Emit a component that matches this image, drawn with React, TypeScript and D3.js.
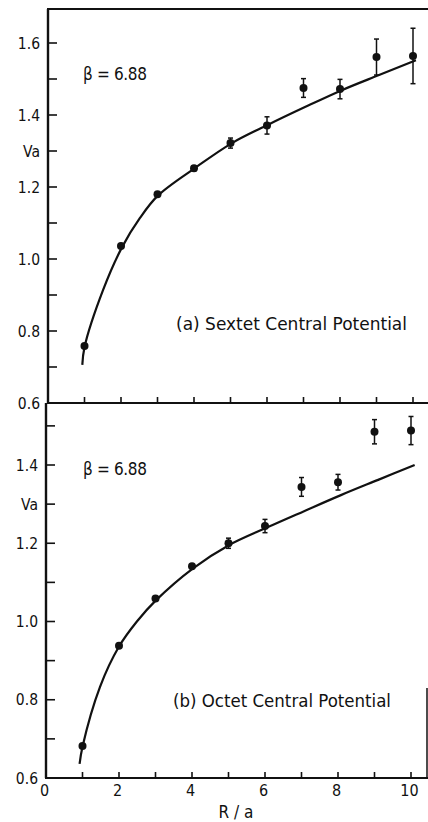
import React from "react";
import * as d3 from "d3";

// ---- data ----
const R = [1, 2, 3, 4, 5, 6, 7, 8, 9, 10];

const sextetV = [0.758, 1.036, 1.18, 1.252, 1.322, 1.371, 1.475, 1.472, 1.561, 1.564];
const sextetErr = [0, 0, 0, 0.007, 0.014, 0.024, 0.026, 0.027, 0.05, 0.077];
const sextetFitR = [0.94, 1.0, 1.51, 2.03, 2.52, 3.01, 4.03, 5.04, 6.03, 7.04, 8.05, 9.07, 10.08];
const sextetFitV = [0.706, 0.755, 0.914, 1.033, 1.114, 1.176, 1.253, 1.322, 1.373, 1.422, 1.469, 1.511, 1.552];

const octetV = [0.682, 0.938, 1.059, 1.141, 1.2, 1.244, 1.344, 1.356, 1.485, 1.488];
const octetErr = [0, 0, 0, 0.004, 0.013, 0.017, 0.024, 0.02, 0.031, 0.036];
const octetFitR = [0.92, 1.0, 1.48, 2.0, 2.49, 3.01, 4.03, 5.01, 6.05, 7.07, 8.08, 9.1, 10.1];
const octetFitV = [0.636, 0.68, 0.833, 0.936, 1.0, 1.054, 1.136, 1.195, 1.24, 1.282, 1.323, 1.362, 1.4];

const xTicks = [1, 2, 3, 4, 5, 6, 7, 8, 9, 10];
const xTickLabels = [0, 2, 4, 6, 8, 10];
const yTicksTop = [0.7, 0.8, 0.9, 1.0, 1.1, 1.2, 1.3, 1.4, 1.5, 1.6];
const yLabelsTop = [0.6, 0.8, 1.0, 1.2, 1.4, 1.6];
const yTicksBottom = [0.7, 0.8, 0.9, 1.0, 1.1, 1.2, 1.3, 1.4, 1.5];
const yLabelsBottom = [0.6, 0.8, 1.0, 1.2, 1.4];
const vaAt = 1.3;
const betaText = "β = 6.88";
const titleTop = "(a) Sextet Central Potential";
const titleBottom = "(b) Octet Central Potential";
const xTitle = "R / a";

const W = 428;
const H = 822;
const FONT = "'DejaVu Sans Condensed', 'DejaVu Sans', sans-serif";

type PanelProps = {
  x0: number;
  yTopPx: number;
  yScale: d3.ScaleLinear<number, number>;
  values: number[];
  errs: number[];
  fitR: number[];
  fitV: number[];
  yTicks: number[];
  yLabels: number[];
  title: string;
  titleX: number;
  titleY: number;
  titleLen: number;
  betaY: number;
  isBottom: boolean;
};

function Panel(p: PanelProps) {
  const x = d3.scaleLinear().domain([0, 10]).range([p.x0, p.x0 + 365]);
  const y = p.yScale;
  const y0 = y(0.6);
  const line = d3
    .line<number>()
    .x((_, i) => x(p.fitR[i]))
    .y((v) => y(v))
    .curve(d3.curveCatmullRom.alpha(0.5));
  const fmt = d3.format(".1f");
  return (
    <g>
      {/* left axis */}
      <line x1={p.x0} x2={p.x0} y1={p.yTopPx} y2={y0} stroke="#111" strokeWidth={2.4} />
      {/* bottom axis */}
      <line x1={p.x0 - 1} x2={W} y1={y0} y2={y0} stroke="#111" strokeWidth={2} />
      {/* y ticks */}
      {p.yTicks.map((t) => (
        <line key={"yt" + t} x1={p.x0} x2={p.x0 + 9} y1={y(t)} y2={y(t)} stroke="#111" strokeWidth={1.6} />
      ))}
      {p.yLabels.map((t) => (
        <text
          key={"yl" + t}
          x={p.x0 - 8}
          y={y(t)}
          dy="0.36em"
          textAnchor="end"
          fontSize={15.5}
          fontFamily={FONT}
          fill="#111"
        >
          {fmt(t)}
        </text>
      ))}
      <text x={p.x0 - 8} y={y(vaAt)} dy="0.36em" textAnchor="end" fontSize={15.5} fontFamily={FONT} fill="#111">
        Va
      </text>
      {/* x ticks */}
      {xTicks.map((t) => (
        <line key={"xt" + t} x1={x(t)} x2={x(t)} y1={y0} y2={y0 - 6} stroke="#111" strokeWidth={1.6} />
      ))}
      {p.isBottom &&
        xTickLabels.map((t) => (
          <text
            key={"xl" + t}
            x={x(t) - 1.5}
            y={y0 + 18}
            textAnchor="middle"
            fontSize={16}
            fontFamily={FONT}
            fill="#111"
          >
            {t}
          </text>
        ))}
      {/* fit curve */}
      <path d={line(p.fitV) || ""} fill="none" stroke="#111" strokeWidth={2.2} />
      {/* error bars */}
      {R.map((r, i) =>
        p.errs[i] > 0 ? (
          <g key={"e" + r} stroke="#111" strokeWidth={1.5}>
            <line x1={x(r)} x2={x(r)} y1={y(p.values[i] - p.errs[i])} y2={y(p.values[i] + p.errs[i])} />
            <line x1={x(r) - 2.5} x2={x(r) + 2.5} y1={y(p.values[i] - p.errs[i])} y2={y(p.values[i] - p.errs[i])} />
            <line x1={x(r) - 2.5} x2={x(r) + 2.5} y1={y(p.values[i] + p.errs[i])} y2={y(p.values[i] + p.errs[i])} />
          </g>
        ) : null
      )}
      {/* points */}
      {R.map((r, i) => (
        <circle key={"p" + r} cx={x(r)} cy={y(p.values[i])} r={4} fill="#111" />
      ))}
      <text x={83} y={p.betaY} dy="0.36em" fontSize={17} fontFamily={FONT} fill="#111" textLength={64}>
        {betaText}
      </text>
      <text
        x={p.titleX}
        y={p.titleY}
        fontSize={17}
        fontFamily={FONT}
        fill="#111"
        textLength={p.titleLen}
        lengthAdjust="spacingAndGlyphs"
      >
        {p.title}
      </text>
    </g>
  );
}

export default function App() {
  const yTop = d3.scaleLinear().domain([0.6, 1.6]).range([403, 43]);
  const yBot = d3.scaleLinear().domain([0.6, 1.4]).range([778, 465]);
  return (
    <svg
      width={W}
      height={H}
      viewBox={`0 0 ${W} ${H}`}
      style={{ position: "absolute", left: 0, top: 0, background: "#fff" }}
    >
      <rect x={0} y={0} width={W} height={H} fill="#fff" />
      {/* top frame */}
      <line x1={47} x2={W} y1={9} y2={9} stroke="#111" strokeWidth={2} />
      <Panel
        x0={48}
        yTopPx={9}
        yScale={yTop}
        values={sextetV}
        errs={sextetErr}
        fitR={sextetFitR}
        fitV={sextetFitV}
        yTicks={yTicksTop}
        yLabels={yLabelsTop}
        title={titleTop}
        titleX={176}
        titleY={330}
        titleLen={231}
        betaY={74}
        isBottom={false}
      />
      <Panel
        x0={46}
        yTopPx={403}
        yScale={yBot}
        values={octetV}
        errs={octetErr}
        fitR={octetFitR}
        fitV={octetFitV}
        yTicks={yTicksBottom}
        yLabels={yLabelsBottom}
        title={titleBottom}
        titleX={173}
        titleY={707}
        titleLen={218}
        betaY={469}
        isBottom={true}
      />
      {/* right frame fragment */}
      <line x1={427} x2={427} y1={yBot(0.83)} y2={yBot(0.6)} stroke="#111" strokeWidth={1.5} />
      <text x={236} y={818} textAnchor="middle" fontSize={17} fontFamily={FONT} fill="#111">
        {xTitle}
      </text>
    </svg>
  );
}
